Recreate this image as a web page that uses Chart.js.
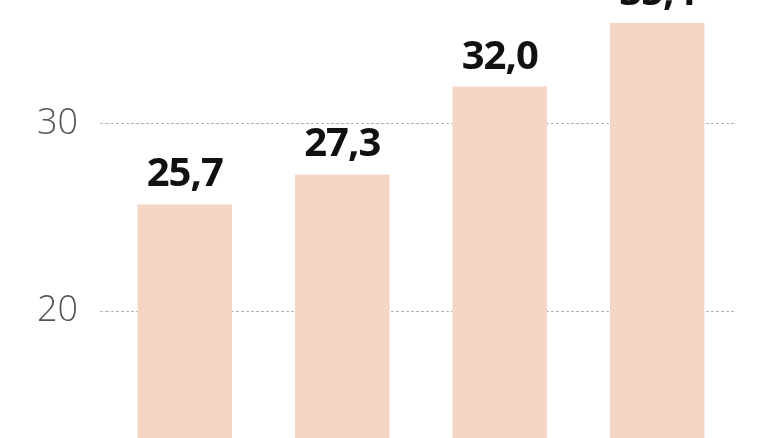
<!DOCTYPE html>
<html>
<head>
<meta charset="utf-8">
<script src="https://cdn.jsdelivr.net/npm/chart.js@4"></script>
<style>
html,body{margin:0;padding:0;background:#fff;}
#wrap{width:778px;height:438px;position:relative;}
</style>
</head>
<body>
<div id="wrap"><canvas id="c"></canvas></div>
<script>
const categories = ["A", "B", "C", "D"];
const values = [25.7, 27.3, 32.0, 35.4];
const valueLabels = ["25,7", "27,3", "32,0", "35,4"];
const yTicks = [20, 30];
const yMin = 13.21;
const yMax = 36.63;

const labelPlugin = {
  id: 'valueLabels',
  afterDatasetsDraw(chart) {
    const ctx = chart.ctx;
    const meta = chart.getDatasetMeta(0);
    ctx.save();
    ctx.font = 'bold 40px "Open Sans"';
    ctx.fillStyle = '#111';
    ctx.textAlign = 'center';
    ctx.textBaseline = 'alphabetic';
    try { ctx.letterSpacing = '-1px'; } catch(e) {}
    meta.data.forEach((bar, i) => {
      ctx.fillText(valueLabels[i], bar.x, bar.y - 18);
    });
    ctx.restore();
  }
};

new Chart(document.getElementById('c'), {
  type: 'bar',
  data: {
    labels: categories,
    datasets: [{
      data: values,
      backgroundColor: '#F5D5C3',
      borderWidth: 0,
      categoryPercentage: 1,
      barPercentage: 0.6
    }]
  },
  options: {
    responsive: true,
    maintainAspectRatio: false,
    animation: false,
    layout: { padding: { left: 0, right: 42, top: 0, bottom: 0 } },
    plugins: { legend: { display: false }, tooltip: { enabled: false } },
    scales: {
      x: { display: false },
      y: {
        min: yMin,
        max: yMax,
        afterFit(scale) {
          scale.width = 106;
          scale.paddingTop = 0;
          scale.paddingBottom = 0;
        },
        afterBuildTicks(scale) { scale.ticks = yTicks.map(v => ({ value: v })); },
        ticks: {
          padding: 22,
          color: '#555',
          font: { family: '"Open Sans"', size: 36, weight: '300' },
          callback: v => String(v)
        },
        grid: { color: '#b5b5b5', lineWidth: 1, drawTicks: true, tickLength: 6, tickBorderDash: [3, 2] },
        border: { display: false, dash: [3, 2] }
      }
    }
  },
  plugins: [labelPlugin]
});
</script>
</body>
</html>
